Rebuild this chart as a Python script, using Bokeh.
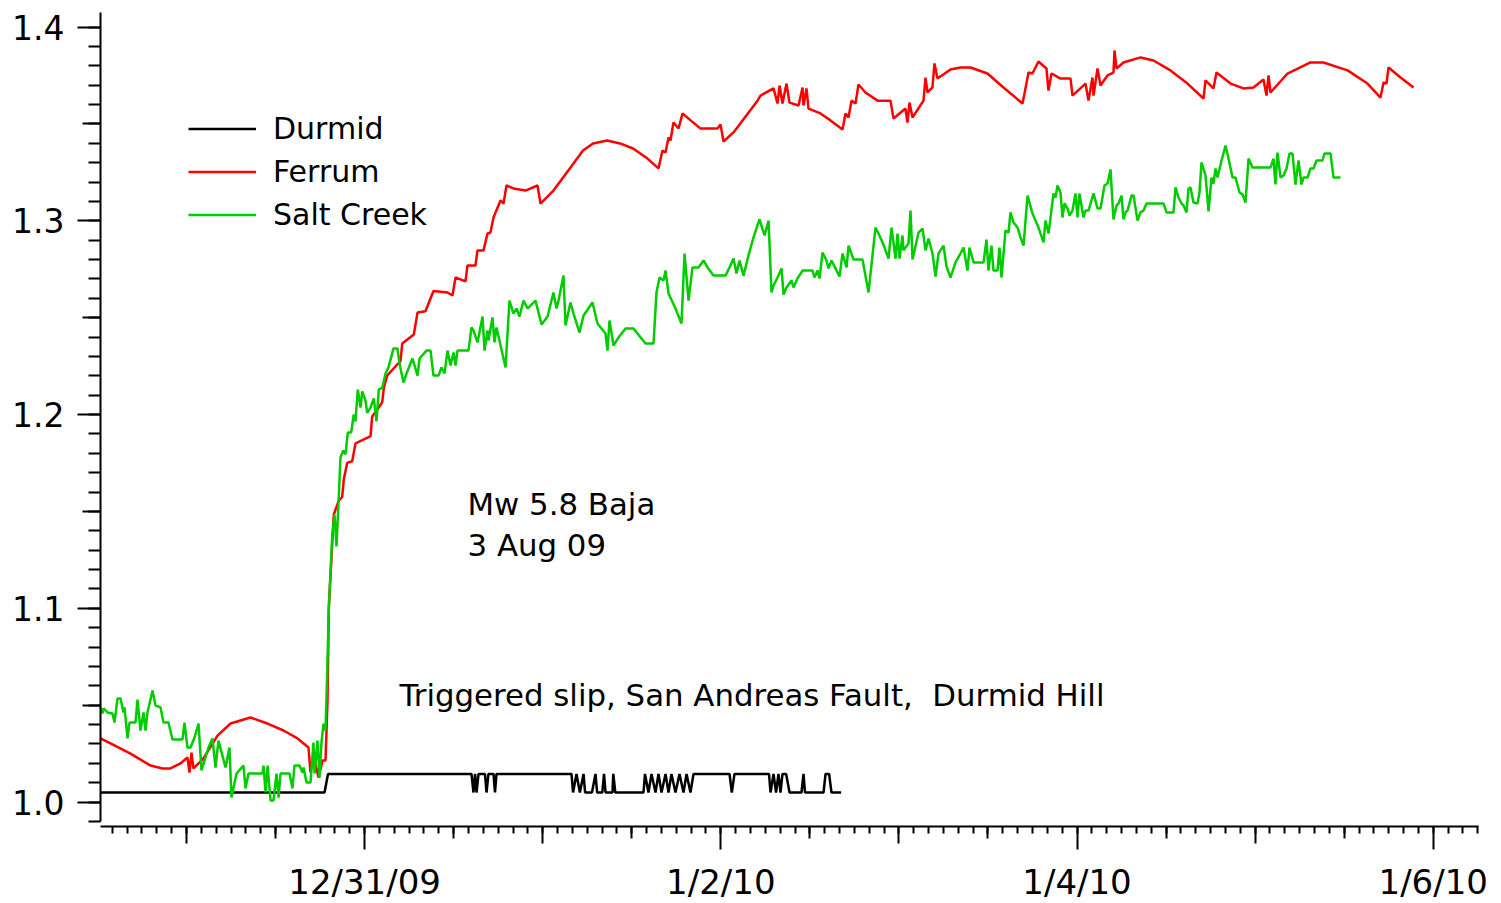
from bokeh.plotting import figure
from bokeh.models import (Range1d, LinearAxis, FixedTicker, PrintfTickFormatter,
                          Legend, LegendItem, Label)
from bokeh.embed import file_html
from bokeh.resources import INLINE

# ---------------- data (x = hours after 12/30/09 00:00) ----------------
durmid_hours = [-11.59, 18.60, 19.07, 38.40, 38.67, 38.88, 39.08, 39.35, 40.22, 40.43,
                40.69, 41.37, 41.57, 41.77, 51.88, 52.09, 52.55, 53.01, 53.50, 53.71,
                54.64, 55.11, 55.33, 56.03, 56.26, 56.46, 57.40, 57.51, 57.78, 61.58,
                61.78, 62.25, 62.66, 63.20, 63.60, 64.01, 64.55, 64.95, 65.35, 65.89,
                66.43, 66.97, 67.38, 67.91, 68.32, 73.17, 73.48, 73.84, 78.49, 78.70,
                79.10, 79.44, 79.77, 80.04, 80.31, 80.80, 81.26, 82.87, 83.14, 83.34,
                85.84, 86.11, 86.59, 86.91, 88.21]
durmid_disp = [1.0049, 1.0049, 1.0145, 1.0145, 1.0049, 1.0145, 1.0049, 1.0145, 1.0145, 1.0049,
               1.0145, 1.0145, 1.0049, 1.0145, 1.0145, 1.0049, 1.0145, 1.0049, 1.0145, 1.0049,
               1.0049, 1.0145, 1.0049, 1.0049, 1.0145, 1.0049, 1.0049, 1.0145, 1.0049, 1.0049,
               1.0145, 1.0049, 1.0145, 1.0049, 1.0145, 1.0049, 1.0145, 1.0049, 1.0145, 1.0049,
               1.0145, 1.0049, 1.0145, 1.0049, 1.0145, 1.0145, 1.0049, 1.0145, 1.0145, 1.0049,
               1.0145, 1.0049, 1.0145, 1.0049, 1.0145, 1.0145, 1.0049, 1.0049, 1.0145, 1.0049,
               1.0049, 1.0145, 1.0145, 1.0049, 1.0049]

ferrum_hours = [-11.59, -10.24, -7.55, -4.85, -3.23, -2.16, -0.81, 0.13, 0.40, 0.67,
                0.94, 2.29, 4.18, 5.93, 8.62, 10.91, 13.07, 14.96, 16.44, 16.71,
                17.11, 17.79, 18.33, 18.73, 18.87, 19.00, 19.18, 19.85, 20.52, 20.98,
                21.20, 21.65, 22.33, 22.77, 24.35, 24.80, 25.02, 25.91, 26.37, 26.59,
                27.04, 28.39, 28.84, 29.07, 30.63, 31.13, 32.20, 33.28, 35.17, 35.84,
                36.25, 37.60, 37.86, 38.94, 39.21, 40.02, 40.56, 40.96, 41.37, 42.31,
                42.72, 43.12, 44.06, 45.68, 47.30, 47.70, 49.45, 51.75, 53.43, 54.78,
                56.67, 58.42, 60.17, 62.12, 63.60, 64.14, 64.55, 64.95, 65.22, 65.62,
                66.30, 66.84, 67.92, 69.26, 71.55, 71.96, 72.36, 73.71, 76.94, 77.35,
                79.10, 79.64, 79.91, 80.31, 80.85, 81.25, 82.47, 83.01, 83.14, 83.54,
                83.81, 85.43, 86.78, 88.40, 88.80, 89.20, 89.61, 90.15, 90.55, 91.49,
                93.11, 94.86, 95.27, 96.88, 97.15, 97.42, 97.83, 99.31, 99.58, 99.85,
                100.52, 100.79, 101.20, 102.95, 104.30, 105.64, 107.93, 110.09, 112.65, 113.05,
                113.46, 113.99, 114.80, 115.88, 116.15, 116.56, 117.77, 119.12, 119.39, 121.14,
                121.54, 122.08, 122.22, 122.76, 123.16, 124.10, 124.91, 125.05, 125.32, 126.26,
                128.55, 130.30, 132.59, 134.88, 137.04, 137.31, 138.38, 138.79, 140.68, 142.43,
                143.78, 145.12, 145.53, 145.80, 146.07, 148.36, 151.46, 153.21, 156.45, 159.14,
                160.89, 161.30, 161.70, 161.97, 163.59, 165.34]
ferrum_disp = [1.0328, 1.0302, 1.0250, 1.0188, 1.0173, 1.0173, 1.0199, 1.0230, 1.0152, 1.0255,
               1.0173, 1.0225, 1.0343, 1.0405, 1.0436, 1.0405, 1.0369, 1.0328, 1.0281, 1.0152,
               1.0240, 1.0126, 1.0214, 1.0214, 1.0369, 1.0524, 1.1004, 1.1484, 1.1556, 1.1575,
               1.1667, 1.1750, 1.1759, 1.1851, 1.1879, 1.1888, 1.1990, 1.2036, 1.2063, 1.2137,
               1.2201, 1.2258, 1.2275, 1.2366, 1.2413, 1.2526, 1.2533, 1.2637, 1.2630, 1.2614,
               1.2707, 1.2687, 1.2769, 1.2769, 1.2847, 1.2847, 1.2934, 1.2939, 1.3017, 1.3105,
               1.3089, 1.3182, 1.3167, 1.3156, 1.3182, 1.3089, 1.3156, 1.3275, 1.3363, 1.3399,
               1.3414, 1.3399, 1.3373, 1.3321, 1.3270, 1.3363, 1.3352, 1.3430, 1.3414, 1.3507,
               1.3476, 1.3554, 1.3518, 1.3476, 1.3476, 1.3497, 1.3409, 1.3456, 1.3620, 1.3646,
               1.3683, 1.3605, 1.3698, 1.3605, 1.3708, 1.3610, 1.3595, 1.3688, 1.3595, 1.3683,
               1.3579, 1.3554, 1.3518, 1.3471, 1.3554, 1.3533, 1.3620, 1.3605, 1.3703, 1.3662,
               1.3620, 1.3620, 1.3528, 1.3579, 1.3507, 1.3610, 1.3533, 1.3620, 1.3739, 1.3662,
               1.3688, 1.3812, 1.3734, 1.3781, 1.3791, 1.3791, 1.3760, 1.3688, 1.3605, 1.3683,
               1.3765, 1.3760, 1.3822, 1.3786, 1.3672, 1.3760, 1.3734, 1.3734, 1.3646, 1.3708,
               1.3620, 1.3739, 1.3646, 1.3786, 1.3698, 1.3750, 1.3765, 1.3879, 1.3786, 1.3817,
               1.3843, 1.3827, 1.3776, 1.3708, 1.3631, 1.3724, 1.3683, 1.3765, 1.3708, 1.3683,
               1.3688, 1.3729, 1.3646, 1.3750, 1.3662, 1.3760, 1.3817, 1.3817, 1.3776, 1.3708,
               1.3636, 1.3714, 1.3708, 1.3791, 1.3739, 1.3688]

salt_hours = [-11.59, -11.32, -11.18, -10.64, -9.97, -9.70, -9.30, -8.89, -8.49, -8.35,
              -7.95, -7.68, -6.87, -6.60, -6.20, -5.79, -5.52, -5.26, -4.58, -4.18,
              -3.50, -3.10, -2.43, -1.89, -0.54, -0.27, 0.13, 0.54, 1.08, 1.62,
              2.02, 2.97, 3.50, 3.91, 4.31, 5.26, 5.79, 6.06, 6.74, 7.68,
              7.95, 8.35, 10.24, 10.38, 10.65, 10.92, 11.32, 11.72, 12.13, 12.40,
              12.67, 13.88, 14.28, 14.55, 15.23, 15.63, 15.77, 16.17, 16.71, 17.11,
              17.25, 17.65, 17.92, 18.19, 18.46, 18.73, 18.96, 19.18, 19.63, 19.94,
              20.21, 20.52, 20.75, 21.12, 21.43, 21.74, 22.19, 22.54, 22.77, 23.08,
              23.45, 23.68, 24.12, 24.35, 24.79, 25.24, 25.60, 25.91, 26.37, 26.82,
              27.22, 27.89, 28.43, 28.70, 29.24, 29.65, 30.45, 31.13, 31.40, 32.34,
              32.88, 33.28, 33.96, 34.36, 34.77, 35.17, 35.57, 35.98, 36.25, 36.52,
              38.00, 38.40, 38.67, 39.21, 39.89, 40.16, 40.56, 40.69, 41.23, 41.50,
              41.77, 42.99, 43.52, 44.06, 44.47, 44.87, 45.41, 45.95, 47.03, 47.84,
              48.65, 49.45, 49.86, 50.13, 50.80, 51.07, 51.74, 52.15, 52.96, 53.50,
              54.71, 55.38, 55.92, 56.46, 56.73, 57.00, 57.54, 58.21, 59.16, 60.23,
              60.77, 61.85, 62.93, 63.33, 63.74, 64.28, 64.55, 64.95, 65.89, 66.70,
              67.11, 67.65, 68.18, 68.99, 69.67, 70.21, 71.01, 72.63, 73.17, 73.71,
              74.11, 74.52, 75.06, 75.73, 76.40, 77.21, 77.89, 78.43, 78.83, 79.10,
              79.64, 80.18, 80.45, 80.85, 81.52, 81.79, 82.33, 83.01, 84.35, 84.62,
              85.03, 85.30, 85.70, 86.24, 86.51, 86.91, 87.45, 87.99, 88.40, 88.94,
              89.21, 89.88, 91.09, 91.90, 92.84, 93.25, 93.79, 94.19, 94.60, 95.00,
              95.54, 95.81, 96.08, 96.48, 96.62, 97.29, 97.56, 97.83, 98.64, 99.18,
              99.58, 99.99, 100.52, 100.93, 101.33, 102.01, 102.41, 102.95, 103.62, 104.30,
              104.70, 105.24, 105.51, 106.05, 107.40, 107.80, 108.07, 108.47, 108.74, 109.28,
              109.55, 109.82, 110.36, 110.77, 111.03, 111.44, 111.98, 112.38, 112.79, 113.33,
              114.00, 114.40, 114.81, 115.48, 115.75, 116.16, 116.83, 117.10, 117.37, 117.77,
              118.04, 118.31, 118.72, 118.99, 119.39, 119.79, 120.06, 120.33, 120.87, 121.14,
              121.55, 122.22, 122.76, 123.16, 123.70, 124.11, 124.51, 124.91, 125.32, 125.59,
              125.99, 126.26, 126.53, 126.80, 127.34, 127.61, 128.15, 128.55, 128.96, 129.36,
              131.65, 132.06, 133.00, 133.27, 133.67, 134.08, 134.35, 134.75, 135.02, 135.29,
              135.69, 136.23, 136.50, 136.77, 137.31, 137.72, 138.12, 138.39, 138.66, 138.93,
              139.47, 140.01, 140.41, 140.95, 141.35, 141.89, 142.30, 142.70, 143.11, 143.64,
              146.07, 146.47, 146.74, 147.01, 147.42, 147.82, 148.23, 148.63, 149.03, 149.44,
              149.84, 150.25, 150.52, 151.06, 151.46, 151.86, 152.27, 153.08, 153.35, 154.15,
              154.56, 155.50]
salt_disp = [1.0488, 1.0457, 1.0483, 1.0462, 1.0457, 1.0410, 1.0534, 1.0534, 1.0462, 1.0488,
             1.0328, 1.0410, 1.0410, 1.0529, 1.0369, 1.0462, 1.0369, 1.0462, 1.0575, 1.0498,
             1.0488, 1.0410, 1.0410, 1.0323, 1.0323, 1.0410, 1.0281, 1.0281, 1.0333, 1.0405,
             1.0163, 1.0281, 1.0328, 1.0178, 1.0317, 1.0178, 1.0281, 1.0023, 1.0147, 1.0188,
             1.0070, 1.0147, 1.0147, 1.0188, 1.0049, 1.0188, 1.0008, 1.0008, 1.0147, 1.0023,
             1.0147, 1.0147, 1.0070, 1.0188, 1.0188, 1.0152, 1.0178, 1.0101, 1.0101, 1.0307,
             1.0147, 1.0317, 1.0126, 1.0307, 1.0405, 1.0369, 1.0663, 1.1004, 1.1370, 1.1484,
             1.1319, 1.1577, 1.1778, 1.1814, 1.1794, 1.1907, 1.1907, 1.2000, 1.1964, 1.2129,
             1.2036, 1.2119, 1.2072, 1.2008, 1.2036, 1.2083, 1.1964, 1.2129, 1.2137, 1.2212,
             1.2243, 1.2341, 1.2341, 1.2263, 1.2165, 1.2212, 1.2289, 1.2201, 1.2289, 1.2330,
             1.2330, 1.2201, 1.2201, 1.2243, 1.2212, 1.2330, 1.2253, 1.2320, 1.2253, 1.2330,
             1.2330, 1.2449, 1.2434, 1.2372, 1.2506, 1.2330, 1.2434, 1.2382, 1.2501, 1.2372,
             1.2449, 1.2243, 1.2588, 1.2521, 1.2547, 1.2506, 1.2588, 1.2547, 1.2588, 1.2465,
             1.2506, 1.2630, 1.2547, 1.2588, 1.2717, 1.2459, 1.2578, 1.2521, 1.2423, 1.2511,
             1.2578, 1.2470, 1.2444, 1.2418, 1.2330, 1.2485, 1.2356, 1.2397, 1.2444, 1.2444,
             1.2418, 1.2366, 1.2366, 1.2630, 1.2707, 1.2692, 1.2743, 1.2625, 1.2547, 1.2470,
             1.2831, 1.2588, 1.2759, 1.2759, 1.2795, 1.2759, 1.2717, 1.2717, 1.2759, 1.2805,
             1.2728, 1.2795, 1.2717, 1.2821, 1.2914, 1.3007, 1.2924, 1.3001, 1.2630, 1.2666,
             1.2707, 1.2754, 1.2619, 1.2656, 1.2692, 1.2656, 1.2702, 1.2743, 1.2743, 1.2707,
             1.2743, 1.2702, 1.2836, 1.2795, 1.2754, 1.2795, 1.2754, 1.2712, 1.2831, 1.2759,
             1.2872, 1.2800, 1.2800, 1.2630, 1.2965, 1.2934, 1.2888, 1.2847, 1.2805, 1.2965,
             1.2805, 1.2934, 1.2805, 1.2924, 1.2847, 1.2883, 1.3053, 1.2800, 1.2939, 1.2960,
             1.2847, 1.2908, 1.2831, 1.2712, 1.2831, 1.2872, 1.2764, 1.2707, 1.2785, 1.2831,
             1.2862, 1.2743, 1.2862, 1.2785, 1.2785, 1.2903, 1.2743, 1.2872, 1.2743, 1.2743,
             1.2862, 1.2707, 1.2950, 1.2939, 1.3043, 1.2991, 1.2965, 1.2914, 1.2872, 1.3130,
             1.3037, 1.3001, 1.2965, 1.2888, 1.3001, 1.2934, 1.3141, 1.3120, 1.3182, 1.3146,
             1.3017, 1.3089, 1.3063, 1.3027, 1.3053, 1.3141, 1.3017, 1.3141, 1.3017, 1.3053,
             1.3053, 1.3141, 1.3063, 1.3063, 1.3182, 1.3192, 1.3265, 1.3007, 1.3079, 1.3089,
             1.3130, 1.3007, 1.3043, 1.3053, 1.3130, 1.3130, 1.3001, 1.3043, 1.3053, 1.3089,
             1.3089, 1.3043, 1.3043, 1.3172, 1.3120, 1.3089, 1.3079, 1.3043, 1.3166, 1.3172,
             1.3094, 1.3089, 1.3146, 1.3301, 1.3234, 1.3048, 1.3223, 1.3192, 1.3270, 1.3223,
             1.3311, 1.3388, 1.3321, 1.3223, 1.3223, 1.3146, 1.3136, 1.3094, 1.3321, 1.3275,
             1.3275, 1.3321, 1.3187, 1.3352, 1.3223, 1.3234, 1.3270, 1.3347, 1.3347, 1.3187,
             1.3311, 1.3187, 1.3223, 1.3223, 1.3270, 1.3270, 1.3311, 1.3311, 1.3347, 1.3347,
             1.3223, 1.3223]

series_names = ["Durmid", "Ferrum", "Salt Creek"]
series_colors = ["#000000", "#FF0000", "#00CC00"]

# ---------------- ticks ----------------
y_major_ticks = [1.0, 1.1, 1.2, 1.3, 1.4]
y_mid_ticks = [1.05, 1.15, 1.25, 1.35]
y_minor_ticks = [round(0.99 + 0.01 * i, 2) for i in range(42)]
x_label_hours = [24, 72, 120, 168]
x_labels = ["12/31/09", "1/2/10", "1/4/10", "1/6/10"]
x_day_ticks = [0, 48, 96, 144]
x_halfday_ticks = [12, 36, 60, 84, 108, 132, 156]
x_minor_ticks = list(range(-10, 175, 2))

# axis extents (data units) and the view that surrounds them
AX_X0, AX_X1 = -11.59, 174.10      # bottom axis span (hours)
AX_Y0, AX_Y1 = 0.99, 1.4075        # left axis span
X_AXIS_AT = 0.98736                # height of the bottom axis line
VIEW_X = (-25.063, 177.06)
VIEW_Y = (0.94813, 1.41368)
FONT = "DejaVu Sans"

p = figure(frame_width=1500, frame_height=902,
           x_range=Range1d(*VIEW_X), y_range=Range1d(*VIEW_Y),
           x_axis_type=None, y_axis_type=None,
           output_backend="svg", toolbar_location=None,
           min_border_left=0, min_border_right=0, min_border_top=0, min_border_bottom=0)
p.outline_line_color = None
p.background_fill_color = "white"
p.border_fill_color = "white"


def style_axis(ax, size="33px"):
    ax.axis_line_width = 2
    ax.axis_line_color = "black"
    ax.major_tick_line_width = 2
    ax.minor_tick_line_width = 2
    ax.major_tick_line_color = "black"
    ax.minor_tick_line_color = "black"
    ax.major_tick_in = 0
    ax.minor_tick_in = 0
    ax.major_label_text_font = FONT
    ax.major_label_text_font_size = size
    ax.major_label_text_color = "black"


# left axis (labels, 0.1 and 0.01 ticks)
yax = LinearAxis(ticker=FixedTicker(ticks=y_major_ticks, minor_ticks=y_minor_ticks),
                 formatter=PrintfTickFormatter(format="%.1f"),
                 fixed_location=AX_X0, bounds=(AX_Y0, AX_Y1))
style_axis(yax)
yax.major_tick_out = 23
yax.minor_tick_out = 12
yax.major_label_standoff = 13
p.add_layout(yax, "left")

# left axis medium ticks at 0.05
ymid = LinearAxis(ticker=FixedTicker(ticks=[], minor_ticks=y_mid_ticks),
                  fixed_location=AX_X0, bounds=(AX_Y0, AX_Y1))
style_axis(ymid)
ymid.axis_line_color = None
ymid.minor_tick_out = 18
p.add_layout(ymid, "left")

# bottom axis (labels every 2 days, minor every 2 hours)
xax = LinearAxis(ticker=FixedTicker(ticks=x_label_hours, minor_ticks=x_minor_ticks),
                 major_label_overrides=dict(zip(x_label_hours, x_labels)),
                 fixed_location=X_AXIS_AT, bounds=(AX_X0, AX_X1))
style_axis(xax, "34px")
xax.major_tick_out = 23
xax.minor_tick_out = 7
xax.major_label_standoff = 13
p.add_layout(xax, "below")

xday = LinearAxis(ticker=FixedTicker(ticks=[], minor_ticks=x_day_ticks),
                  fixed_location=X_AXIS_AT, bounds=(AX_X0, AX_X1))
style_axis(xday)
xday.axis_line_color = None
xday.minor_tick_out = 17
p.add_layout(xday, "below")

xhalf = LinearAxis(ticker=FixedTicker(ticks=[], minor_ticks=x_halfday_ticks),
                   fixed_location=X_AXIS_AT, bounds=(AX_X0, AX_X1))
style_axis(xhalf)
xhalf.axis_line_color = None
xhalf.minor_tick_out = 12
p.add_layout(xhalf, "below")

# data lines
r_d = p.line(durmid_hours, durmid_disp, line_color=series_colors[0], line_width=2.5)
r_f = p.line(ferrum_hours, ferrum_disp, line_color=series_colors[1], line_width=2.5)
r_s = p.line(salt_hours, salt_disp, line_color=series_colors[2], line_width=2.5)

legend = Legend(items=[LegendItem(label=series_names[0], renderers=[r_d]),
                       LegendItem(label=series_names[1], renderers=[r_f]),
                       LegendItem(label=series_names[2], renderers=[r_s])],
                location=(188, 670))
legend.border_line_color = None
legend.background_fill_alpha = 0
legend.padding = 0
legend.margin = 0
legend.spacing = 8
legend.glyph_width = 68
legend.glyph_height = 35
legend.label_height = 35
legend.label_standoff = 17
legend.label_text_font = FONT
legend.label_text_font_size = "30px"
legend.label_text_color = "black"
p.add_layout(legend)

for txt, xx, yy in [("Mw 5.8 Baja", 37.87, 1.1536),
                    ("3 Aug 09", 37.87, 1.1324),
                    ("Triggered slip, San Andreas Fault,\u00a0 Durmid Hill", 28.70, 1.0550)]:
    p.add_layout(Label(x=xx, y=yy, text=txt, text_font=FONT, text_font_size="30.8px",
                       text_color="black", text_baseline="alphabetic", text_align="left"))

open("out.html", "w").write(file_html(p, INLINE))
